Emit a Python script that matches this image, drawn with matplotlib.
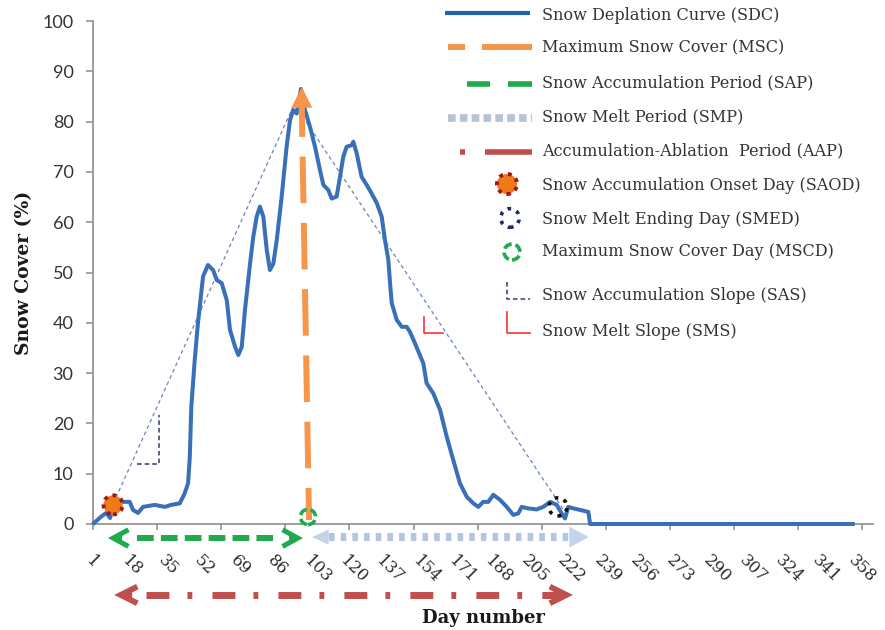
import matplotlib
matplotlib.use("Agg")
import matplotlib.pyplot as plt

# ---- snow depletion curve: day of year vs. snow cover (%) ----
day = [1, 4.4, 6.7, 8.5, 9.9, 13.7, 17.7, 19.2, 21.6, 23.9,
       29.4, 34.1, 37.1, 41.1, 43.4, 45, 45.8, 46.5, 48.1, 49.6,
       52, 54.3, 56.7, 58.4, 60.7, 63.1, 64.6, 67, 68.5, 70.1,
       71.6, 74, 75.5, 77.1, 78.6, 80.2, 81.8, 83.3, 84.9, 86.5,
       88.8, 91.1, 92.7, 94.2, 95.8, 97.8, 99.7, 102, 104.4, 106.7,
       108.3, 110.6, 112.2, 114.5, 116.1, 117.6, 119.2, 121.6, 122.3, 123.9,
       126.2, 128.6, 130.9, 133.3, 135.6, 137.1, 138.7, 139.5, 140.3, 142.6,
       145, 147.3, 148.8, 151.2, 155.1, 156.6, 159.7, 162.9, 166, 169.1,
       172.2, 175.4, 178.5, 180.8, 183.1, 185.5, 187.8, 191, 194.1, 197.2,
       199.5, 201.1, 204.2, 208.1, 211.2, 214.4, 217.5, 219.8, 221.4, 222.9,
       225.3, 228.4, 232.3, 233.1, 356]
snow_cover = [0.2, 1.5, 2.2, 1.2, 3.8, 4.4, 4.4, 2.8, 2.2, 3.4,
              3.8, 3.4, 3.8, 4.1, 6.1, 8.1, 13.4, 23.3, 32.6, 39.9,
              49.2, 51.5, 50.5, 48.5, 47.9, 44.5, 38.6, 35.2, 33.6, 35.2,
              42.5, 51.8, 57.1, 61.1, 63.1, 61.1, 54.5, 50.5, 51.8, 56.5,
              65.1, 75, 80.3, 82.3, 81.6, 86.5, 82.3, 79, 75, 70.4,
              67.4, 66.4, 64.7, 65.1, 69, 73, 75, 75.3, 76, 73.7,
              69, 67.4, 65.7, 63.8, 61.1, 56.5, 52.5, 47.9, 43.9, 40.6,
              39.2, 39.2, 38.2, 35.9, 31.9, 28, 26, 22.7, 17.4, 12.7,
              8.1, 5.4, 4.1, 3.4, 4.4, 4.4, 5.8, 4.8, 3.4, 1.8,
              2.1, 3.4, 3.1, 2.9, 3.4, 4.4, 3.8, 2.1, 1.1, 3.4,
              3.1, 2.8, 2.4, 0, 0]

x_tick_labels = [1, 18, 35, 52, 69, 86, 103, 120, 137, 154, 171,
                 188, 205, 222, 239, 256, 273, 290, 307, 324, 341, 358]
x_tick_marks = [0.5, 30.5, 60.5, 90.5, 120.5, 150.5, 180.5, 210.5,
                240.5, 270.5, 300.5, 330.5, 360.5]
y_ticks = [0, 10, 20, 30, 40, 50, 60, 70, 80, 90, 100]

# key days of the season
saod_day, saod_val = 9.9, 3.8        # snow accumulation onset day
mscd_day, mscd_val = 101.1, 1.4      # maximum snow cover day
smed_day, smed_val = 218.1, 3.4      # snow melt ending day
msc_top_day, msc_top = 98.2, 86.9    # maximum snow cover
msc_base_day, msc_base = 101.6, 0.8

# accumulation / melt slope guide lines
slope_days = [9.9, 94.7, 221.0]
slope_vals = [4.0, 83.5, 2.6]
sas_days = [21.1, 31.4, 31.4]
sas_vals = [12.0, 12.0, 21.7]
sms_days = [155.4, 155.4, 164.3]
sms_vals = [41.2, 38.0, 38.0]

# period arrows (start day, end day, level)
sap_period = (7.5, 98.8, -2.8)
smp_period = (103.0, 232.5, -2.6)
aap_period = (10.4, 225.1, -14.1)

BLUE = "#3A70B7"
ORANGE = "#F7964A"
GREEN = "#1FAA4B"
PALE = "#B3C5DF"
RED = "#C0504D"
AXIS = "#8C8C8C"

fig = plt.figure(figsize=(8.85, 6.3), dpi=100)
ax = fig.add_axes([93 / 885, 1 - 524 / 630, 780 / 885, 503 / 630])
ax.set_xlim(0.5, 365.5)
ax.set_ylim(0, 100)

for s in ("top", "right"):
    ax.spines[s].set_visible(False)
for s in ("left", "bottom"):
    ax.spines[s].set_color(AXIS)
    ax.spines[s].set_linewidth(1.2)

ax.set_yticks(y_ticks)
ax.set_yticklabels([str(v) for v in y_ticks], family="Lato", fontsize=13,
                   color="#333333")
ax.tick_params(axis="y", length=5, width=1.1, color=AXIS, pad=9)

ax.set_xticks(x_tick_marks)
ax.set_xticklabels([])
ax.tick_params(axis="x", which="major", length=4, width=1.1, color=AXIS)
ax.set_xticks(x_tick_labels, minor=True)
ax.set_xticklabels([str(v) for v in x_tick_labels], minor=True,
                   family="DejaVu Serif", fontsize=11.8, color="#2A2A2A")
ax.tick_params(axis="x", which="minor", length=0, pad=20)
for lab in ax.get_xticklabels(minor=True):
    lab.set_rotation(-45)
    lab.set_ha("left")
    lab.set_va("top")
    lab.set_rotation_mode("anchor")

ax.set_ylabel("Snow Cover (%)", family="DejaVu Serif", fontweight="bold",
              fontsize=13.5, color="#1A1A1A")
ax.yaxis.set_label_coords(-0.077, 0.5)
ax.set_xlabel("Day number", family="DejaVu Serif", fontweight="bold",
              fontsize=13, color="#1A1A1A")
ax.xaxis.set_label_coords(0.5, -0.168)

# slope guide lines
ax.plot(slope_days, slope_vals, color="#6A84B8", lw=0.9,
        ls=(0, (3, 2.5)), zorder=2)
ax.plot(sas_days, sas_vals, color="#2F3A63", lw=1.1, ls=(0, (3, 2)), zorder=2)
ax.plot(sms_days, sms_vals, color="#FF3030", lw=1.2, zorder=2)

# snow depletion curve
ax.plot(day, snow_cover, color=BLUE, lw=2.9, zorder=3, clip_on=False,
        solid_joinstyle="round")

# maximum snow cover arrow
ax.plot([msc_top_day, msc_base_day], [msc_top - 4.0, msc_base], color=ORANGE,
        lw=4.3, ls=(2.8, (7.8, 3.3)), solid_capstyle="butt", zorder=4)
ax.annotate("", xy=(msc_top_day, msc_top), xytext=(msc_top_day, msc_top - 4.5),
            arrowprops=dict(arrowstyle="-|>,head_length=1.5,head_width=0.75",
                            color=ORANGE, lw=0, shrinkA=0, shrinkB=0), zorder=4)

# key day markers
ax.scatter([saod_day], [saod_val], s=190, facecolors="#F07A1A",
           edgecolors="#9E1A1A", linewidths=2.8, linestyles=(0, (1, 1.3)),
           zorder=6, clip_on=False)
ax.scatter([smed_day], [smed_val], s=170, facecolors="none",
           edgecolors="#111111", linewidths=2.6, linestyles=(0, (1, 1.6)),
           zorder=6, clip_on=False)
ax.scatter([mscd_day], [mscd_val], s=120, facecolors="none",
           edgecolors=GREEN, linewidths=2.6, linestyles=(0, (2.4, 1.1)),
           zorder=6, clip_on=False)

px_per_day = 780 / 365.0


def chevron(x_tip, x_from, y, color, lw, hl, hw):
    ax.annotate("", xy=(x_tip, y), xytext=(x_from, y), annotation_clip=False,
                arrowprops=dict(arrowstyle=f"->,head_length={hl},head_width={hw}",
                                color=color, lw=lw, shrinkA=0, shrinkB=0,
                                capstyle="butt", joinstyle="miter"))


def solid_head(x_tip, x_from, y, color, hl, hw):
    ax.annotate("", xy=(x_tip, y), xytext=(x_from, y), annotation_clip=False,
                arrowprops=dict(arrowstyle=f"-|>,head_length={hl},head_width={hw}",
                                color=color, lw=0, shrinkA=0, shrinkB=0))


# snow accumulation period
a, b, lvl = sap_period
ax.plot([a + 29 / px_per_day, b - 30 / px_per_day], [lvl, lvl], color=GREEN,
        lw=4.3, ls=(0, (2.8, 1.2)), solid_capstyle="butt", clip_on=False,
        zorder=5)
chevron(a, a + 14 / px_per_day, lvl, GREEN, 3.6, 1.1, 0.6)
chevron(b, b - 14 / px_per_day, lvl, GREEN, 3.6, 1.1, 0.6)

# snow melt period
a, b, lvl = smp_period
ax.plot([a + 17 / px_per_day, b - 20 / px_per_day], [lvl, lvl], color=PALE,
        lw=5.8, ls=(0, (0.7, 0.75)), solid_capstyle="butt", clip_on=False,
        zorder=5)
solid_head(a, a + 14 / px_per_day, lvl, "#C3D3EA", 1.2, 0.55)
solid_head(b, b - 16 / px_per_day, lvl, "#C3D3EA", 1.4, 0.75)

# accumulation-ablation period
a, b, lvl = aap_period
ax.plot([a + 32 / px_per_day, b - 20 / px_per_day], [lvl, lvl], color=RED,
        lw=5.0, ls=(0, (3.3, 2.6, 0.7, 2.9)), solid_capstyle="butt",
        clip_on=False, zorder=5)
chevron(a, a + 18 / px_per_day, lvl, RED, 4.2, 1.2, 0.6)
chevron(b, b - 24 / px_per_day, lvl, RED, 4.2, 1.2, 0.6)

# ---- legend drawn on a pixel-coordinate overlay ----
lg = fig.add_axes([0, 0, 1, 1], facecolor="none", zorder=10)
lg.set_xlim(0, 885)
lg.set_ylim(630, 0)
lg.axis("off")

labels = ["Snow Deplation Curve (SDC)",
          "Maximum Snow Cover (MSC)",
          "Snow Accumulation Period (SAP)",
          "Snow Melt Period (SMP)",
          "Accumulation-Ablation  Period (AAP)",
          "Snow Accumulation Onset Day (SAOD)",
          "Snow Melt Ending Day (SMED)",
          "Maximum Snow Cover Day (MSCD)",
          "Snow Accumulation Slope (SAS)",
          "Snow Melt Slope (SMS)"]
rows = [15, 48, 83, 117, 151, 185, 219, 252, 296, 331]
for text, yy in zip(labels, rows):
    lg.text(542, yy, text, family="DejaVu Serif", fontsize=11.6,
            color="#333333", va="center", ha="left")

lg.plot([445, 530], [13, 13], color="#2462AF", lw=3.0, solid_capstyle="butt")
lg.plot([448, 465], [47, 47], color=ORANGE, lw=4.3, solid_capstyle="butt")
lg.plot([482, 532], [47, 47], color=ORANGE, lw=4.3, solid_capstyle="butt")
lg.plot([467, 490], [84, 84], color=GREEN, lw=4.0, solid_capstyle="butt")
lg.plot([508, 532], [84, 84], color=GREEN, lw=4.0, solid_capstyle="butt")
lg.plot([448, 532], [118, 118], color="#B7C2D4", lw=5.5, ls=(0, (1.0, 0.55)),
        solid_capstyle="butt")
lg.plot([460, 465], [152, 152], color=RED, lw=4.0, solid_capstyle="butt")
lg.plot([485, 532], [152, 152], color=RED, lw=4.0, solid_capstyle="butt")
lg.scatter([507], [184], s=210, facecolors="#F07A1A", edgecolors="#9E1A1A",
           linewidths=2.8, linestyles=(0, (1, 1.3)))
lg.scatter([510], [218], s=180, facecolors="none", edgecolors="#1A2A6A",
           linewidths=2.6, linestyles=(0, (1, 1.6)))
lg.scatter([512], [252], s=130, facecolors="none", edgecolors=GREEN,
           linewidths=2.6, linestyles=(0, (2.4, 1.1)))
lg.plot([507, 507, 530], [282, 299, 299], color="#2F3A63", lw=1.1,
        ls=(0, (3, 2)))
lg.plot([507, 507, 530], [312, 333, 333], color="#FF3030", lw=1.2)

fig.savefig("out.png", dpi=100, facecolor="white")
